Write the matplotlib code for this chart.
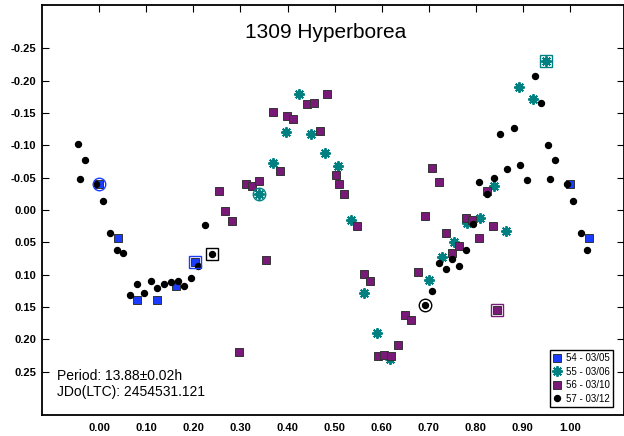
import numpy as np
import matplotlib.pyplot as plt

plt.rcParams['font.family'] = ['Liberation Sans', 'DejaVu Sans']

# session 54 - 03/05 (blue squares)
ph_54 = [0.000, 0.040, 0.081, 0.122, 0.162, 0.203, 1.000, 1.040]
mag_54 = [-0.041, 0.043, 0.139, 0.140, 0.118, 0.080, -0.041, 0.043]

# session 55 - 03/06 (teal asterisks)
ph_55 = [0.339, 0.369, 0.396, 0.425, 0.451, 0.479, 0.507, 0.535, 0.562, 0.590,
         0.617, 0.700, 0.728, 0.754, 0.781, 0.810, 0.839, 0.865, 0.893, 0.921, 0.949]
mag_55 = [-0.025, -0.072, -0.121, -0.179, -0.117, -0.088, -0.068, 0.015, 0.128, 0.191,
          0.231, 0.109, 0.072, 0.049, 0.020, 0.013, -0.037, 0.032, -0.190, -0.172, -0.230]

# session 56 - 03/10 (purple squares)
ph_56 = [0.254, 0.268, 0.282, 0.296, 0.311, 0.325, 0.339, 0.354, 0.369, 0.383,
         0.398, 0.412, 0.441, 0.456, 0.469, 0.484, 0.504, 0.509, 0.521, 0.548,
         0.562, 0.576, 0.592, 0.606, 0.620, 0.635, 0.649, 0.663, 0.678, 0.693,
         0.707, 0.721, 0.736, 0.750, 0.765, 0.779, 0.793, 0.808, 0.823, 0.836, 0.845]
mag_56 = [-0.029, 0.002, 0.017, 0.220, -0.041, -0.037, -0.045, 0.078, -0.151, -0.060,
          -0.146, -0.141, -0.164, -0.166, -0.122, -0.180, -0.054, -0.041, -0.025, 0.025,
          0.099, 0.110, 0.226, 0.225, 0.226, 0.209, 0.163, 0.170, 0.096, 0.010,
          -0.065, -0.043, 0.035, 0.066, 0.056, 0.013, 0.016, 0.044, -0.029, 0.024, 0.155]

# session 57 - 03/12 (black dots)
ph_57 = [-0.046, -0.040, -0.031, -0.006, 0.008, 0.023, 0.037, 0.051, 0.066, 0.080,
         0.094, 0.109, 0.123, 0.138, 0.152, 0.168, 0.181, 0.195, 0.210, 0.225,
         0.239, 0.693, 0.707, 0.721, 0.736, 0.750, 0.765, 0.780, 0.794, 0.808,
         0.823, 0.838, 0.852, 0.866, 0.881, 0.895, 0.910, 0.925, 0.938, 0.954,
         0.958, 0.969, 0.993, 1.007, 1.023, 1.037]
mag_57 = [-0.102, -0.048, -0.077, -0.041, -0.014, 0.035, 0.062, 0.066, 0.131, 0.114,
          0.128, 0.110, 0.120, 0.114, 0.111, 0.110, 0.118, 0.106, 0.087, 0.023,
          0.068, 0.147, 0.125, 0.082, 0.092, 0.076, 0.086, 0.062, 0.021, -0.044,
          -0.025, -0.049, -0.118, -0.064, -0.127, -0.070, -0.046, -0.208, -0.165, -0.101,
          -0.048, -0.077, -0.040, -0.014, 0.035, 0.062]

# first points of each session (marked)
ring_ph = [0.000, 0.339, 0.693]
ring_mag = [-0.041, -0.025, 0.147]
ring_col = ['#1a3cff', '#008080', '#000000']
box_ph = [0.203, 0.239, 0.949, 0.845]
box_mag = [0.080, 0.068, -0.230, 0.155]
box_col = ['#1a3cff', '#000000', '#008080', '#7a1a78']

labels = ['54 - 03/05', '55 - 03/06', '56 - 03/10', '57 - 03/12']
xticks = np.arange(0, 1.01, 0.1)
yticks = [-0.25, -0.20, -0.15, -0.10, -0.05, 0.00, 0.05, 0.10, 0.15, 0.20, 0.25]

fig = plt.figure(figsize=(6.24, 4.36), dpi=100)
ax = fig.add_axes([42/624, 21/436, 582/624, 410/436])

ax.plot(ph_54, mag_54, 's', ms=5.2, color='#1a3cff', mec='#333333', mew=0.7, ls='none', label=labels[0])
ax.plot(ph_55, mag_55, marker=(8, 2, 0), ms=7.5, color='#008080', mew=1.4, ls='none', label=labels[1])
ax.plot(ph_56, mag_56, 's', ms=5.2, color='#7a1a78', mec='#333333', mew=0.7, ls='none', label=labels[2])
ax.plot(ph_57, mag_57, 'o', ms=4.3, color='black', ls='none', label=labels[3])

# rings and boxes round the first point of a session
for x_, y_, c_ in zip(ring_ph, ring_mag, ring_col):
    ax.plot(x_, y_, 'o', ms=9, mfc='none', mec=c_, mew=1.0)
for x_, y_, c_ in zip(box_ph, box_mag, box_col):
    ax.plot(x_, y_, 's', ms=9, mfc='none', mec=c_, mew=1.0)

ax.set_xlim(-0.1218, 1.1152)
ax.set_ylim(0.3173, -0.3173)
ax.set_xticks(xticks)
ax.set_xticklabels(['%.2f' % v for v in xticks])
ax.set_yticks(yticks)
ax.set_yticklabels(['%.2f' % v for v in yticks])
ax.tick_params(axis='x', direction='in', top=True, bottom=False, labelbottom=True, length=5, pad=6)
ax.tick_params(axis='y', direction='in', left=True, right=True, length=5, pad=4)
for lab in ax.get_xticklabels() + ax.get_yticklabels():
    lab.set_fontsize(8)
    lab.set_fontweight('bold')
for sp in ax.spines.values():
    sp.set_linewidth(1.3)

fig.text(326/624, 1 - 32/436, '1309 Hyperborea', fontsize=15, ha='center', va='center')
fig.text(57/624, 1 - 380/436, 'Period: 13.88\u00b10.02h', fontsize=10, ha='left', va='baseline')
fig.text(57/624, 1 - 396/436, 'JDo(LTC): 2454531.121', fontsize=10, ha='left', va='baseline')

leg = ax.legend(loc='lower right', bbox_to_anchor=(613/624, 29/436), bbox_transform=fig.transFigure,
                fontsize=7, frameon=True, fancybox=False, edgecolor='black', framealpha=1,
                borderpad=0.35, handlelength=0.9, handletextpad=0.4, labelspacing=0.35,
                borderaxespad=0)
leg.get_frame().set_linewidth(1.0)

fig.savefig('out.png', dpi=100)
